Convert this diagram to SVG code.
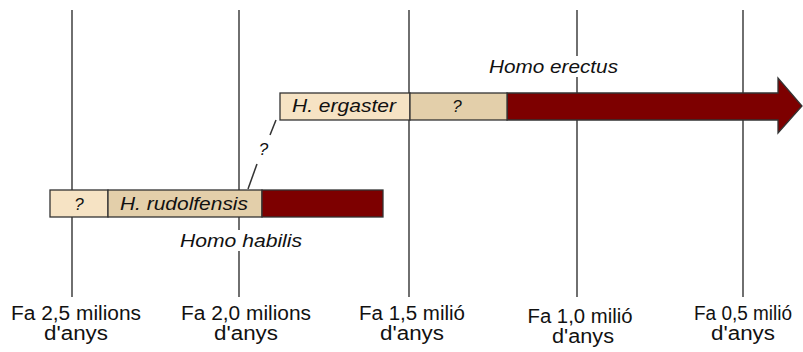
<svg xmlns="http://www.w3.org/2000/svg" width="803" height="352" viewBox="0 0 803 352">
<style>
.grid{stroke:#222;stroke-width:1.3;fill:none}
.t{font-family:"Liberation Sans",Arial,sans-serif;fill:#111}
.ax{font-size:20px;text-anchor:middle}
.it{font-style:italic;font-size:18px;text-anchor:middle}
.q{font-style:italic;font-size:17px;text-anchor:middle}
.light{fill:#f6e3c4;stroke:#333;stroke-width:1.3}
.dark{fill:#e3cfaa;stroke:#333;stroke-width:1.3}
.red{fill:#7d0000;stroke:#333;stroke-width:1.3}
.conn{stroke:#333;stroke-width:1.5;fill:none}
</style>
<rect width="803" height="352" fill="#fff"/>
<g id="grid">
<line class="grid" x1="72" y1="10" x2="72" y2="297"/>
<line class="grid" x1="239" y1="10" x2="239" y2="297"/>
<line class="grid" x1="409" y1="10" x2="409" y2="297"/>
<line class="grid" x1="577" y1="10" x2="577" y2="297"/>
<line class="grid" x1="743" y1="10" x2="743" y2="297"/>
</g>
<g id="axis-labels">
<text class="t ax" x="76" y="320" textLength="130" lengthAdjust="spacingAndGlyphs">Fa 2,5 milions</text>
<text class="t ax" x="76" y="340" textLength="64" lengthAdjust="spacingAndGlyphs">d'anys</text>
<text class="t ax" x="246" y="320" textLength="130" lengthAdjust="spacingAndGlyphs">Fa 2,0 milions</text>
<text class="t ax" x="246" y="340" textLength="64" lengthAdjust="spacingAndGlyphs">d'anys</text>
<text class="t ax" x="412" y="320" textLength="106" lengthAdjust="spacingAndGlyphs">Fa 1,5 milió</text>
<text class="t ax" x="412" y="340" textLength="64" lengthAdjust="spacingAndGlyphs">d'anys</text>
<text class="t ax" x="580" y="323" textLength="105" lengthAdjust="spacingAndGlyphs">Fa 1,0 milió</text>
<text class="t ax" x="583" y="343" textLength="62" lengthAdjust="spacingAndGlyphs">d'anys</text>
<text class="t ax" x="743" y="320" textLength="98" lengthAdjust="spacingAndGlyphs">Fa 0,5 milió</text>
<text class="t ax" x="743" y="340" textLength="64" lengthAdjust="spacingAndGlyphs">d'anys</text>
</g>
<g id="connectors">
<line class="conn" x1="248" y1="189" x2="257" y2="164"/>
<line class="conn" x1="270" y1="135" x2="276" y2="120"/>
<text class="t q" x="263.5" y="155">?</text>
</g>
<g id="homo-habilis">
<rect class="light" x="50" y="190" width="58" height="27"/>
<rect class="dark" x="108" y="190" width="154" height="27"/>
<rect class="red" x="262" y="190" width="121" height="27"/>
<text class="t q" x="79" y="210">?</text>
<text class="t it" x="184" y="210" textLength="128" lengthAdjust="spacingAndGlyphs">H. rudolfensis</text>
<rect x="178" y="230" width="126" height="21" fill="#fff"/>
<text class="t it" x="241" y="247" textLength="122" lengthAdjust="spacingAndGlyphs">Homo habilis</text>
</g>
<g id="homo-erectus">
<path class="red" d="M507 93 H778 V78 L802 106 L778 133 V120 H507 Z"/>
<rect class="light" x="280" y="93" width="130" height="27"/>
<rect class="dark" x="410" y="93" width="97" height="27"/>
<text class="t it" x="344" y="112" textLength="104" lengthAdjust="spacingAndGlyphs">H. ergaster</text>
<text class="t q" x="457" y="112">?</text>
<rect x="487" y="56" width="133" height="21" fill="#fff"/>
<text class="t it" x="553.5" y="73" textLength="129" lengthAdjust="spacingAndGlyphs">Homo erectus</text>
</g>
</svg>
